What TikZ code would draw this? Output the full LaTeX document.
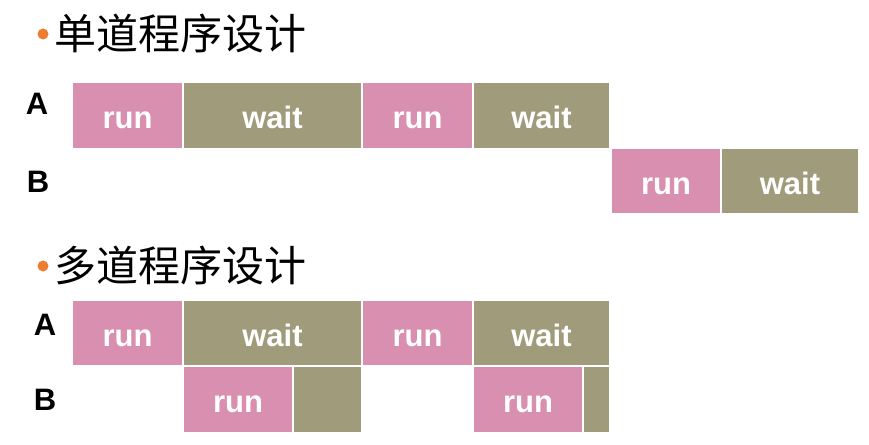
\documentclass[tikz,border=0pt]{standalone}
\usepackage{fontspec}
\setmainfont{Liberation Sans}
\newfontfamily\cjk{Noto Sans CJK SC}
\definecolor{runc}{RGB}{217,143,176}
\definecolor{waitc}{RGB}{160,155,123}
\definecolor{bulc}{RGB}{237,125,49}
\begin{document}
\begin{tikzpicture}[x=1pt,y=-1pt,
  seg/.style={inner sep=0pt,outer sep=0pt,anchor=base,font=\fontsize{31}{31}\selectfont\bfseries,text=white},
  lab/.style={inner sep=0pt,font=\fontsize{31}{31}\selectfont\bfseries},
  ttl/.style={inner sep=0pt,anchor=west,font=\fontsize{42}{42}\selectfont\cjk},
  bul/.style={circle,fill=bulc,inner sep=0pt,minimum size=11pt}]
\useasboundingbox (0,0) rectangle (869,444);
% titles
\node[bul] (b1) at (43,34) {};
\node[ttl] (t1) at (54,33) {单道程序设计};
\node[bul] (b2) at (43,266) {};
\node[ttl] (t2) at (54,265) {多道程序设计};
% labels
\node[lab] (la1) at (37,104) {A};
\node[lab] (lb1) at (38,182) {B};
\node[lab] (la2) at (45,325) {A};
\node[lab] (lb2) at (45,400) {B};
% single-program A
\fill[runc] (73,83) rectangle (182,148);
\node[seg] (s1) at (127.5,128) {run};
\fill[waitc] (184,83) rectangle (361,148);
\node[seg] (s2) at (272.5,128) {wait};
\fill[runc] (363,83) rectangle (472,148);
\node[seg] (s3) at (417.5,128) {run};
\fill[waitc] (474,83) rectangle (609,148);
\node[seg] (s4) at (541.5,128) {wait};
% single-program B
\fill[runc] (612,149) rectangle (720,213);
\node[seg] (s5) at (666,194) {run};
\fill[waitc] (722,149) rectangle (858,213);
\node[seg] (s6) at (790,194) {wait};
% multi-program A
\fill[runc] (73,301) rectangle (182,365);
\node[seg] (m1) at (127.5,346) {run};
\fill[waitc] (184,301) rectangle (361,365);
\node[seg] (m2) at (272.5,346) {wait};
\fill[runc] (363,301) rectangle (472,365);
\node[seg] (m3) at (417.5,346) {run};
\fill[waitc] (474,301) rectangle (609,365);
\node[seg] (m4) at (541.5,346) {wait};
% multi-program B
\fill[runc] (184,367) rectangle (292,432);
\node[seg] (m5) at (238,412) {run};
\fill[waitc] (294,367) rectangle (361,432);
\fill[runc] (474,367) rectangle (582,432);
\node[seg] (m6) at (528,412) {run};
\fill[waitc] (584,367) rectangle (609,432);
\end{tikzpicture}
\end{document}
